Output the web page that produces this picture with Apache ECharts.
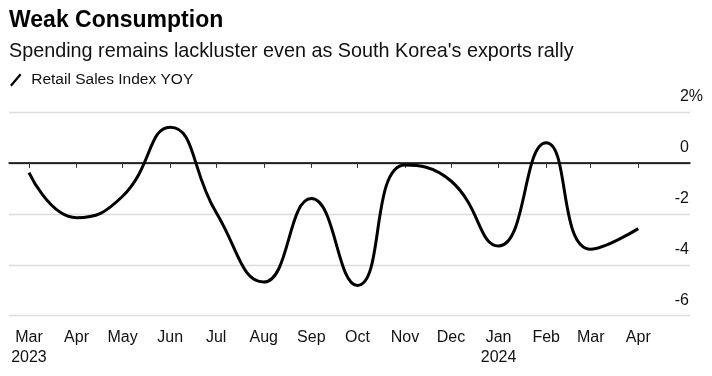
<!DOCTYPE html>
<html>
<head>
<meta charset="utf-8">
<script src="https://cdn.jsdelivr.net/npm/echarts@6/dist/echarts.min.js"></script>
<style>
html,body{margin:0;padding:0;background:#fff;}
#chart{width:712px;height:376px;}
</style>
</head>
<body>
<div id="chart"></div>
<script>
// Months (first day of each month) and Retail Sales Index YoY (%)
const months = ['2023-03','2023-04','2023-05','2023-06','2023-07','2023-08','2023-09','2023-10','2023-11','2023-12','2024-01','2024-02','2024-03','2024-04'];
const values = [-0.38, -2.15, -1.31, 1.40, -1.95, -4.68, -1.40, -4.81, -0.08, -0.71, -3.26, 0.79, -3.39, -2.58];
const monthLabels = ['Mar\n2023','Apr','May','Jun','Jul','Aug','Sep','Oct','Nov','Dec','Jan\n2024','Feb','Mar','Apr'];

// day numbers (days since epoch) so the x axis is proportional to calendar time
function dayNum(s){ const p = s.split('-'); return Date.UTC(+p[0], +p[1]-1, 1) / 86400000; }
const days = months.map(dayNum);
const seriesData = days.map((d,i)=>[d, values[i]]);
const xMin = Date.UTC(2023, 1, 16) / 86400000;
const xMax = Date.UTC(2024, 4, 4, 17) / 86400000;

const chart = echarts.init(document.getElementById('chart'));
const option = {
  animation: false,
  backgroundColor: '#fff',
  title: [
    { text: 'Weak Consumption', left: 9, top: 9, padding: 0,
      textStyle: { fontFamily: 'Liberation Sans', fontSize: 23, fontWeight: 'bold', color: '#000' } },
    { text: "Spending remains lackluster even as South Korea's exports rally", left: 9, top: 42, padding: 0,
      textStyle: { fontFamily: 'Liberation Sans', fontSize: 19.8, fontWeight: 'normal', color: '#111' } }
  ],
  legend: {
    left: 10, top: 72, padding: 0,
    data: ['Retail Sales Index YOY'],
    icon: 'path://M0,10 L8.5,0 L10,1.3 L1.5,11.3 Z',
    itemWidth: 13, itemHeight: 13,
    textStyle: { fontFamily: 'Liberation Sans', fontSize: 15.5, color: '#111', padding: [0,0,0,4] },
    itemStyle: { color: '#000' }
  },
  grid: { left: 9, right: 22, top: 112, bottom: 60.3, containLabel: false },
  xAxis: {
    type: 'value',
    min: xMin,
    max: xMax,
    axisLine: { show: true, lineStyle: { color: '#000', width: 1.5 } },
    axisTick: { show: true, customValues: days, length: 5, lineStyle: { color: '#333', width: 1 } },
    axisLabel: {
      customValues: days,
      formatter: function(v){ const i = days.indexOf(v); return i >= 0 ? monthLabels[i] : ''; },
      fontFamily: 'Liberation Sans', fontSize: 16, color: '#111', lineHeight: 20, margin: 12,
      hideOverlap: false
    },
    splitLine: { show: false }
  },
  yAxis: {
    type: 'value', position: 'right',
    min: -6, max: 2, interval: 2,
    axisLine: { show: false }, axisTick: { show: false },
    axisLabel: {
      inside: false, align: 'right', margin: 13,
      verticalAlign: 'bottom', padding: [0,0,7,0],
      fontFamily: 'Liberation Sans', fontSize: 16, color: '#111', lineHeight: 16,
      formatter: function(v){ return v === 2 ? '2%' : (v + '{s| }'); },
      rich: { s: { width: 14, fontSize: 16 } }
    },
    splitLine: { show: true, lineStyle: { color: ['#dcdcdc','#dcdcdc','#dcdcdc','#808080','#dcdcdc'], width: 1.3 } }
  },
  series: [{
    name: 'Retail Sales Index YOY',
    type: 'line',
    data: seriesData,
    smooth: 0.5,
    showSymbol: false,
    symbol: 'none',
    lineStyle: { color: '#000', width: 3 },
    itemStyle: { color: '#000' }
  }]
};
chart.setOption(option);
</script>
</body>
</html>
